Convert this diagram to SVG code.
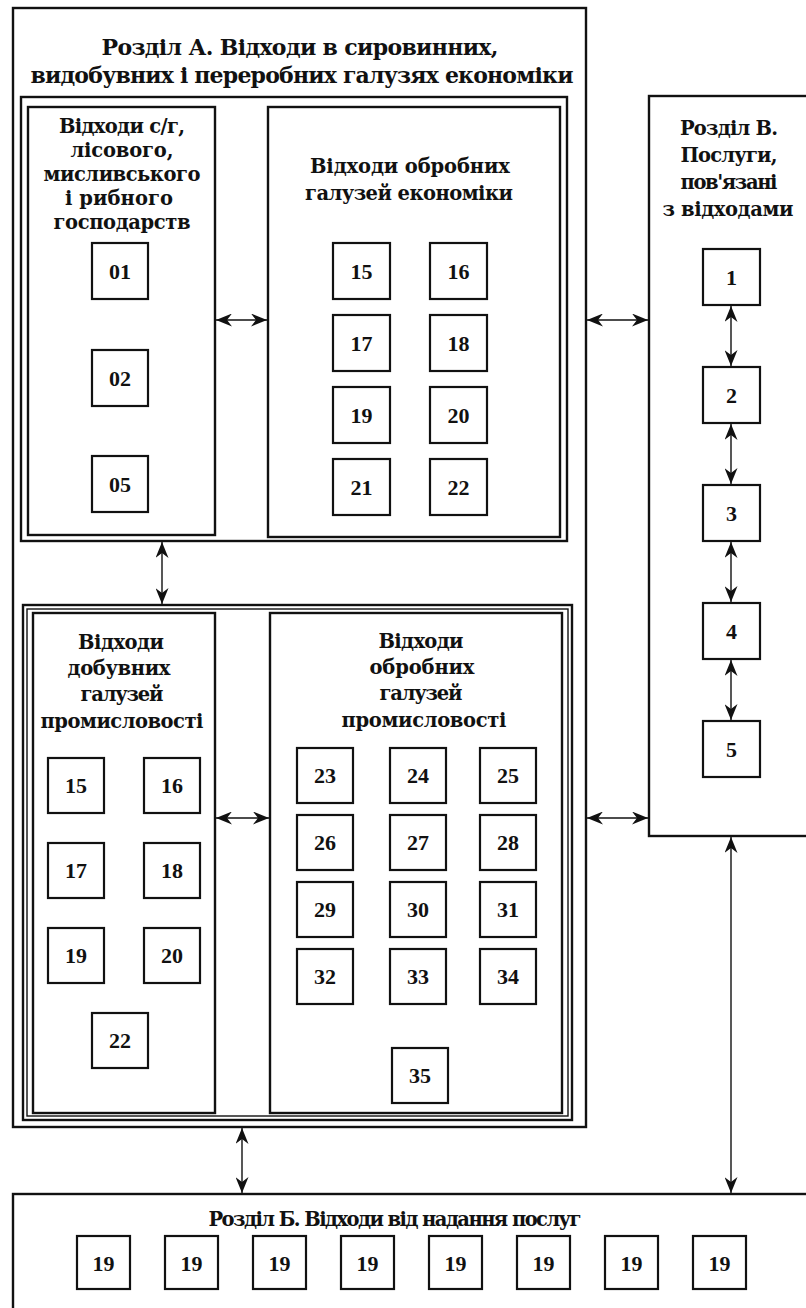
<svg xmlns="http://www.w3.org/2000/svg" width="806" height="1308" viewBox="0 0 806 1308">
<style>
  .bg{fill:#ffffff}
  .frame{fill:none;stroke:#111;stroke-width:2.4}
  .thin{fill:none;stroke:#111;stroke-width:1.4}
  .box{fill:#fff;stroke:#111;stroke-width:2.2}
  .t{font-family:"DejaVu Serif","Liberation Serif",serif;font-weight:bold;fill:#111;text-anchor:middle}
  .h1{font-size:22px}
  .h2{font-size:19.5px}
  .n{font-family:"Liberation Serif","DejaVu Serif",serif;font-weight:bold;font-size:22px;fill:#111;text-anchor:middle}
  .c{stroke:#111;stroke-width:1.4;fill:none;marker-start:url(#ah);marker-end:url(#ah)}
</style>
<defs>
  <marker id="ah" viewBox="0 0 16 13" refX="16" refY="6.5" markerWidth="16" markerHeight="13" markerUnits="userSpaceOnUse" orient="auto-start-reverse">
    <path d="M0,0 L16,6.5 L0,13 L5,6.5 z" fill="#111"/>
  </marker>
</defs>
<rect class="bg" x="0" y="0" width="806" height="1308"/>

<g id="sectionA">
  <rect class="frame" x="13" y="8" width="573" height="1119"/>
  <text class="t h1" x="300" y="55" textLength="397">Розділ А. Відходи в сировинних,</text>
  <text class="t h1" x="302" y="83" textLength="543">видобувних і переробних галузях економіки</text>
</g>

<g id="groupTop">
  <rect class="frame" x="21" y="97" width="546" height="444"/>
</g>

<g id="agri">
  <rect class="frame" x="28" y="107" width="187" height="428"/>
  <text class="t h2" x="122" y="133" textLength="126">Відходи с/г,</text>
  <text class="t h2" x="122" y="157" textLength="103">лісового,</text>
  <text class="t h2" x="122" y="181" textLength="157">мисливського</text>
  <text class="t h2" x="119" y="205" textLength="108">і рибного</text>
  <text class="t h2" x="122" y="229" textLength="137">господарств</text>
</g>
<g id="b01"><rect class="box" x="92" y="243" width="56" height="56"/><text class="n" x="120" y="279">01</text></g>
<g id="b02"><rect class="box" x="92" y="350" width="56" height="56"/><text class="n" x="120" y="386">02</text></g>
<g id="b05"><rect class="box" x="92" y="456" width="56" height="56"/><text class="n" x="120" y="492">05</text></g>

<g id="manufEcon">
  <rect class="frame" x="268" y="107" width="292" height="430"/>
  <text class="t h2" x="410" y="173" textLength="200">Відходи обробних</text>
  <text class="t h2" x="409" y="200" textLength="208">галузей економіки</text>
</g>
<g id="t15"><rect class="box" x="333" y="243" width="57" height="56"/><text class="n" x="361.5" y="279">15</text></g>
<g id="t16"><rect class="box" x="430" y="243" width="57" height="56"/><text class="n" x="458.5" y="279">16</text></g>
<g id="t17"><rect class="box" x="333" y="315" width="57" height="56"/><text class="n" x="361.5" y="351">17</text></g>
<g id="t18"><rect class="box" x="430" y="315" width="57" height="56"/><text class="n" x="458.5" y="351">18</text></g>
<g id="t19"><rect class="box" x="333" y="387" width="57" height="56"/><text class="n" x="361.5" y="423">19</text></g>
<g id="t20"><rect class="box" x="430" y="387" width="57" height="56"/><text class="n" x="458.5" y="423">20</text></g>
<g id="t21"><rect class="box" x="333" y="459" width="57" height="56"/><text class="n" x="361.5" y="495">21</text></g>
<g id="t22"><rect class="box" x="430" y="459" width="57" height="56"/><text class="n" x="458.5" y="495">22</text></g>

<g id="groupBottom">
  <rect class="frame" x="23" y="605" width="549" height="515"/>
  <rect class="thin" x="27" y="609" width="541" height="507"/>
</g>

<g id="mining">
  <rect class="frame" x="33" y="613" width="182" height="500"/>
  <text class="t h2" x="121" y="649" textLength="86">Відходи</text>
  <text class="t h2" x="119" y="675" textLength="103">добувних</text>
  <text class="t h2" x="122" y="701" textLength="83">галузей</text>
  <text class="t h2" x="122" y="728" textLength="163">промисловості</text>
</g>
<g id="m15"><rect class="box" x="48" y="758" width="56" height="55"/><text class="n" x="76" y="793">15</text></g>
<g id="m16"><rect class="box" x="144" y="758" width="56" height="55"/><text class="n" x="172" y="793">16</text></g>
<g id="m17"><rect class="box" x="48" y="843" width="56" height="55"/><text class="n" x="76" y="878">17</text></g>
<g id="m18"><rect class="box" x="144" y="843" width="56" height="55"/><text class="n" x="172" y="878">18</text></g>
<g id="m19"><rect class="box" x="48" y="928" width="56" height="55"/><text class="n" x="76" y="963">19</text></g>
<g id="m20"><rect class="box" x="144" y="928" width="56" height="55"/><text class="n" x="172" y="963">20</text></g>
<g id="m22"><rect class="box" x="92" y="1013" width="56" height="55"/><text class="n" x="120" y="1048">22</text></g>

<g id="manufInd">
  <rect class="frame" x="270" y="613" width="292" height="500"/>
  <text class="t h2" x="421" y="648" textLength="85">Відходи</text>
  <text class="t h2" x="422" y="674" textLength="105">обробних</text>
  <text class="t h2" x="421" y="700" textLength="83">галузей</text>
  <text class="t h2" x="424" y="727" textLength="165">промисловості</text>
</g>
<g id="p23"><rect class="box" x="297" y="748" width="56" height="55"/><text class="n" x="325" y="783">23</text></g>
<g id="p24"><rect class="box" x="390" y="748" width="56" height="55"/><text class="n" x="418" y="783">24</text></g>
<g id="p25"><rect class="box" x="480" y="748" width="56" height="55"/><text class="n" x="508" y="783">25</text></g>
<g id="p26"><rect class="box" x="297" y="815" width="56" height="55"/><text class="n" x="325" y="850">26</text></g>
<g id="p27"><rect class="box" x="390" y="815" width="56" height="55"/><text class="n" x="418" y="850">27</text></g>
<g id="p28"><rect class="box" x="480" y="815" width="56" height="55"/><text class="n" x="508" y="850">28</text></g>
<g id="p29"><rect class="box" x="297" y="882" width="56" height="55"/><text class="n" x="325" y="917">29</text></g>
<g id="p30"><rect class="box" x="390" y="882" width="56" height="55"/><text class="n" x="418" y="917">30</text></g>
<g id="p31"><rect class="box" x="480" y="882" width="56" height="55"/><text class="n" x="508" y="917">31</text></g>
<g id="p32"><rect class="box" x="297" y="949" width="56" height="55"/><text class="n" x="325" y="984">32</text></g>
<g id="p33"><rect class="box" x="390" y="949" width="56" height="55"/><text class="n" x="418" y="984">33</text></g>
<g id="p34"><rect class="box" x="480" y="949" width="56" height="55"/><text class="n" x="508" y="984">34</text></g>
<g id="p35"><rect class="box" x="392" y="1048" width="56" height="55"/><text class="n" x="420" y="1083">35</text></g>

<g id="sectionB">
  <rect class="frame" x="649" y="96" width="180" height="740"/>
  <text class="t h2" x="729" y="135" textLength="98">Розділ В.</text>
  <text class="t h2" x="729" y="162" textLength="97">Послуги,</text>
  <text class="t h2" x="729" y="189" textLength="97">пов'язані</text>
  <text class="t h2" x="728" y="216" textLength="131">з відходами</text>
</g>
<g id="s1"><rect class="box" x="703" y="249" width="57" height="56"/><text class="n" x="731.5" y="285">1</text></g>
<g id="s2"><rect class="box" x="703" y="367" width="57" height="56"/><text class="n" x="731.5" y="403">2</text></g>
<g id="s3"><rect class="box" x="703" y="485" width="57" height="56"/><text class="n" x="731.5" y="521">3</text></g>
<g id="s4"><rect class="box" x="703" y="603" width="57" height="56"/><text class="n" x="731.5" y="639">4</text></g>
<g id="s5"><rect class="box" x="703" y="721" width="57" height="56"/><text class="n" x="731.5" y="757">5</text></g>

<g id="sectionBB">
  <rect class="frame" x="13" y="1194" width="820" height="140"/>
  <text class="t h2" x="395" y="1226" textLength="373">Розділ Б. Відходи від надання послуг</text>
</g>
<g id="u1"><rect class="box" x="77" y="1236" width="53" height="53"/><text class="n" x="103.5" y="1271">19</text></g>
<g id="u2"><rect class="box" x="165" y="1236" width="53" height="53"/><text class="n" x="191.5" y="1271">19</text></g>
<g id="u3"><rect class="box" x="253" y="1236" width="53" height="53"/><text class="n" x="279.5" y="1271">19</text></g>
<g id="u4"><rect class="box" x="341" y="1236" width="53" height="53"/><text class="n" x="367.5" y="1271">19</text></g>
<g id="u5"><rect class="box" x="429" y="1236" width="53" height="53"/><text class="n" x="455.5" y="1271">19</text></g>
<g id="u6"><rect class="box" x="517" y="1236" width="53" height="53"/><text class="n" x="543.5" y="1271">19</text></g>
<g id="u7"><rect class="box" x="605" y="1236" width="53" height="53"/><text class="n" x="631.5" y="1271">19</text></g>
<g id="u8"><rect class="box" x="693" y="1236" width="53" height="53"/><text class="n" x="719.5" y="1271">19</text></g>

<g id="connectors">
  <line class="c" x1="216" y1="320" x2="267" y2="320"/>
  <line class="c" x1="587" y1="320" x2="648" y2="320"/>
  <line class="c" x1="162" y1="542" x2="162" y2="604"/>
  <line class="c" x1="216" y1="818" x2="269" y2="818"/>
  <line class="c" x1="587" y1="818" x2="648" y2="818"/>
  <line class="c" x1="731" y1="306" x2="731" y2="366"/>
  <line class="c" x1="731" y1="424" x2="731" y2="484"/>
  <line class="c" x1="731" y1="542" x2="731" y2="602"/>
  <line class="c" x1="731" y1="660" x2="731" y2="720"/>
  <line class="c" x1="242" y1="1128" x2="242" y2="1193"/>
  <line class="c" x1="731" y1="837" x2="731" y2="1193"/>
</g>
</svg>
